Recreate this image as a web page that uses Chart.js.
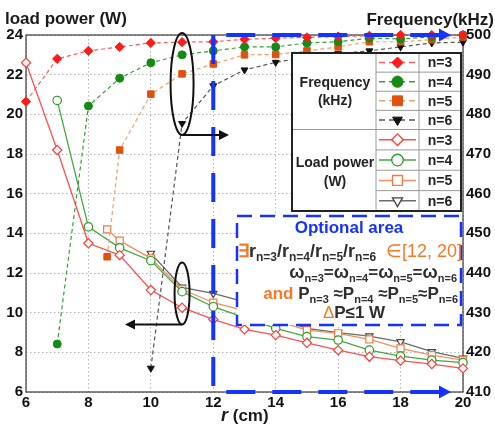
<!DOCTYPE html>
<html><head><meta charset="utf-8">
<script src="https://cdn.jsdelivr.net/npm/chart.js@4"></script>
<style>html,body{margin:0;padding:0;background:#fff;overflow:hidden}canvas{display:block}</style>
</head><body>
<canvas id="c" width="495" height="425"></canvas>
<script>
// ---------- data ----------
const xTicks = [6, 8, 10, 12, 14, 16, 18, 20];
const powerTicks = [6, 8, 10, 12, 14, 16, 18, 20, 22, 24];
const freqTicks = [410, 420, 430, 440, 450, 460, 470, 480, 490, 500];

const r3 = [6, 7, 8, 9, 10, 11, 12, 13, 14, 15, 16, 17, 18, 19, 20];
const freq3 = [483.2, 494.0, 496.0, 497.0, 498.0, 498.2, 498.3, 498.9, 499.2, 499.4, 499.6, 499.8, 500, 500, 500];
const power3 = [22.6, 18.2, 13.5, 12.9, 11.14, 10.25, 9.66, 9.16, 8.87, 8.48, 8.11, 7.78, 7.58, 7.41, 7.19];

const r4 = [7, 8, 9, 10, 11, 12, 13, 14, 15, 16, 17, 18, 19, 20];
const freq4 = [422.1, 482.1, 489.1, 493.0, 495.0, 496.0, 497.0, 497.0, 498.0, 498.3, 499.2, 499.0, 499.5, 500];
const power4 = [20.7, 14.33, 13.27, 12.62, 11.06, 10.3, 9.75, 9.21, 8.79, 8.62, 8.11, 7.81, 7.61, 7.48];

const r5 = [8.6, 9, 10, 11, 12, 13, 14, 15, 16, 17, 18, 19, 20];
const freq5 = [444.1, 471.0, 485.1, 490.2, 492.7, 495.0, 495.1, 496.0, 497.0, 498.3, 498.3, 498.8, 499.5];
const power5 = [14.2, 13.63, 12.74, 11.18, 10.5, 10.1, 9.6, 9.12, 8.96, 8.65, 8.2, 7.86, 7.61];

const r6 = [10, 11, 12, 13, 14, 15, 16, 17, 18, 19, 20];
const freq6 = [416.0, 477.7, 487.2, 491.2, 493.1, 494.5, 495.3, 496.0, 497.0, 498.0, 498.2];
const power6 = [12.99, 11.28, 10.97, 10.55, 9.75, 9.21, 8.99, 8.82, 8.53, 8.03, 7.7];

const seriesNames = ['n=3', 'n=4', 'n=5', 'n=6'];

// ---------- styles ----------
const FONT = '"Liberation Sans", Arial, Helvetica, sans-serif';
const styles = [
  { marker: '#ff1a1a', dash: '#ff5c5c', line: '#ff5050', open: '#ff3b3b', shape: 'rectRot' },
  { marker: '#168a16', dash: '#3a9d3a', line: '#45a845', open: '#2a9a2a', shape: 'circle' },
  { marker: '#e0500e', dash: '#f3a070', line: '#f29060', open: '#f07a48', shape: 'rect' },
  { marker: '#111111', dash: '#555555', line: '#6a6a6a', open: '#444444', shape: 'triDown' }
];
const rs = [r3, r4, r5, r6];
const freqs = [freq3, freq4, freq5, freq6];
const powers = [power3, power4, power5, power6];

function pts(xs, ys) { return xs.map((x, i) => ({ x: x, y: ys[i] })); }
function cjStyle(s) { return s === 'triDown' ? 'triangle' : s; }

const datasets = [];
for (let i = 0; i < 4; i++) {
  const st = styles[i];
  const rad = st.shape === 'rect' ? 4.6 : (st.shape === 'rectRot' ? 4.6 : 4);
  datasets.push({
    label: 'freq ' + seriesNames[i], data: pts(rs[i], freqs[i]), yAxisID: 'y1',
    borderColor: st.dash, borderWidth: 1.2, borderDash: [4, 3],
    pointStyle: cjStyle(st.shape), pointRotation: st.shape === 'triDown' ? 180 : 0,
    pointRadius: rad, pointBackgroundColor: st.marker, pointBorderColor: st.marker, pointBorderWidth: 1,
    tension: 0, clip: false, order: 1
  });
}
for (let i = 0; i < 4; i++) {
  const st = styles[i];
  const rad = st.shape === 'rect' ? 5 : (st.shape === 'rectRot' ? 4.6 : 4.2);
  datasets.push({
    label: 'power ' + seriesNames[i], data: pts(rs[i], powers[i]), yAxisID: 'y',
    borderColor: st.line, borderWidth: 1.3,
    pointStyle: cjStyle(st.shape), pointRotation: st.shape === 'triDown' ? 180 : 0,
    pointRadius: rad, pointBackgroundColor: '#ffffff', pointBorderColor: st.open, pointBorderWidth: 1.2,
    tension: 0, clip: false, order: 2
  });
}

// ---------- drawing helpers ----------
function marker(ctx, style, x, y, r, fill, stroke, lw) {
  ctx.save();
  ctx.beginPath();
  if (style === 'circle') ctx.arc(x, y, r, 0, 2 * Math.PI);
  else if (style === 'rectRot') { ctx.moveTo(x, y - r); ctx.lineTo(x + r, y); ctx.lineTo(x, y + r); ctx.lineTo(x - r, y); ctx.closePath(); }
  else if (style === 'rect') { const s = r * Math.SQRT1_2; ctx.rect(x - s, y - s, 2 * s, 2 * s); }
  else { ctx.moveTo(x - r * 0.866, y - r * 0.5); ctx.lineTo(x + r * 0.866, y - r * 0.5); ctx.lineTo(x, y + r); ctx.closePath(); }
  ctx.fillStyle = fill; ctx.fill();
  ctx.lineWidth = lw; ctx.strokeStyle = stroke; ctx.stroke();
  ctx.restore();
}
function rich(ctx, segs, x, y, align) {
  let total = 0;
  segs.forEach(s => { ctx.font = s.f; s.w = ctx.measureText(s.t).width; total += s.w; });
  let cx = align === 'center' ? x - total / 2 : (align === 'right' ? x - total : x);
  ctx.textAlign = 'left'; ctx.textBaseline = 'alphabetic';
  segs.forEach(s => { ctx.font = s.f; ctx.fillStyle = s.c; ctx.fillText(s.t, cx, y + (s.dy || 0)); cx += s.w; });
}
function arrowHead(ctx, x, y, dir, len, half, color) {
  ctx.beginPath();
  ctx.moveTo(x, y);
  ctx.lineTo(x - dir * len, y - half);
  ctx.lineTo(x - dir * len, y + half);
  ctx.closePath();
  ctx.fillStyle = color; ctx.fill();
}

const annot = {
  id: 'annot',
  beforeDatasetsDraw(chart) {
    const ctx = chart.ctx, a = chart.chartArea;
    ctx.save();
    ctx.strokeStyle = '#3a3a3a'; ctx.lineWidth = 1.2;
    ctx.strokeRect(a.left, a.top, a.right - a.left, a.bottom - a.top);
    ctx.restore();
  },
  afterDatasetsDraw(chart) {
    const ctx = chart.ctx, a = chart.chartArea;
    const xs = chart.scales.x;
    const x11 = xs.getPixelForValue(11), x12 = xs.getPixelForValue(12);
    const BLUE = '#1532ff', DARK = '#2e2e2e', ORG = '#f47a28';
    ctx.save();

    // ----- optional area box -----
    const bx0 = 237, bx1 = 461, by0 = 216, by1 = 325;
    ctx.fillStyle = '#fff';
    ctx.fillRect(bx0, by0, bx1 - bx0, by1 - by0);
    ctx.setLineDash([15, 8]);
    ctx.strokeStyle = BLUE; ctx.lineWidth = 2.5;
    ctx.strokeRect(bx0, by0, bx1 - bx0, by1 - by0);
    ctx.setLineDash([]);

    const B = (s) => 'bold ' + s + 'px ' + FONT;
    const N = (s) => s + 'px ' + FONT;
    rich(ctx, [{ t: 'Optional area', f: B(17), c: BLUE }], 349, 233, 'center');
    const sub = (t, s) => ({ t: t, f: B(s || 11), c: DARK, dy: 4 });
    rich(ctx, [
      { t: '\u2203', f: B(18), c: ORG },
      { t: 'r', f: B(18), c: DARK }, sub('n=3', 12), { t: '/', f: B(18), c: DARK },
      { t: 'r', f: B(18), c: DARK }, sub('n=4', 12), { t: '/', f: B(18), c: DARK },
      { t: 'r', f: B(18), c: DARK }, sub('n=5', 12), { t: '/', f: B(18), c: DARK },
      { t: 'r', f: B(18), c: DARK }, sub('n=6', 12),
      { t: '  \u2208[12, 20]', f: N(18), c: ORG }
    ], 238, 257, 'left');
    rich(ctx, [
      { t: '\u03c9', f: B(18), c: DARK }, sub('n=3'), { t: '=', f: B(17), c: DARK },
      { t: '\u03c9', f: B(18), c: DARK }, sub('n=4'), { t: '=', f: B(17), c: DARK },
      { t: '\u03c9', f: B(18), c: DARK }, sub('n=5'), { t: '=', f: B(17), c: DARK },
      { t: '\u03c9', f: B(18), c: DARK }, sub('n=6')
    ], 457, 278, 'right');
    rich(ctx, [
      { t: 'and ', f: B(17), c: ORG },
      { t: 'P', f: B(17), c: DARK }, sub('n=3'), { t: ' \u2248', f: B(17), c: DARK },
      { t: 'P', f: B(17), c: DARK }, sub('n=4'), { t: ' \u2248', f: B(17), c: DARK },
      { t: 'P', f: B(17), c: DARK }, sub('n=5'), { t: '\u2248', f: B(17), c: DARK },
      { t: 'P', f: B(17), c: DARK }, sub('n=6')
    ], 458, 299, 'right');
    rich(ctx, [
      { t: '\u0394', f: N(17), c: ORG },
      { t: 'P\u22641 W', f: B(17), c: DARK }
    ], 354, 318, 'center');

    // ----- legend table -----
    const lx0 = 292, lx1 = 461, lc1 = 376, lc2 = 419, ly0 = 53, lmid = 129.5, ly1 = 211;
    ctx.fillStyle = '#fff';
    ctx.fillRect(lx0, ly0, lx1 - lx0, ly1 - ly0);
    ctx.strokeStyle = '#9a9a9a'; ctx.lineWidth = 1;
    ctx.beginPath();
    ctx.moveTo(lc1, ly0); ctx.lineTo(lc1, ly1);
    ctx.moveTo(lc2, ly0); ctx.lineTo(lc2, ly1);
    ctx.moveTo(lx0, lmid); ctx.lineTo(lx1, lmid);
    const rowsTop = [], rowsBot = [];
    for (let k = 0; k < 4; k++) {
      rowsTop.push(ly0 + (lmid - ly0) * (k + 0.5) / 4);
      rowsBot.push(lmid + (ly1 - lmid) * (k + 0.5) / 4);
      if (k > 0) {
        const yt = ly0 + (lmid - ly0) * k / 4, yb = lmid + (ly1 - lmid) * k / 4;
        ctx.moveTo(lc1, yt); ctx.lineTo(lx1, yt);
        ctx.moveTo(lc1, yb); ctx.lineTo(lx1, yb);
      }
    }
    ctx.stroke();
    ctx.strokeStyle = '#222'; ctx.lineWidth = 2;
    ctx.strokeRect(lx0, ly0, lx1 - lx0, ly1 - ly0);

    ctx.fillStyle = '#222'; ctx.font = B(14); ctx.textAlign = 'center'; ctx.textBaseline = 'middle';
    const lcx = (lx0 + lc1) / 2 + 1;
    ctx.fillText('Frequency', lcx, 83);
    ctx.fillText('(kHz)', lcx, 101);
    ctx.fillText('Load power', lcx, 163);
    ctx.fillText('(W)', lcx, 182);
    const sx0 = lc1 + 3, sx1 = lc2 - 3, smx = (lc1 + lc2) / 2;
    for (let i = 0; i < 4; i++) {
      const st = styles[i];
      let y = rowsTop[i];
      ctx.strokeStyle = st.dash; ctx.lineWidth = 1.4; ctx.setLineDash([6, 4]);
      ctx.beginPath(); ctx.moveTo(sx0, y); ctx.lineTo(sx1, y); ctx.stroke(); ctx.setLineDash([]);
      marker(ctx, st.shape, smx, y, st.shape === 'rect' ? 7 : 5.6, st.marker, st.marker, 1);
      ctx.fillStyle = '#222'; ctx.font = B(14); ctx.textAlign = 'center'; ctx.textBaseline = 'middle';
      ctx.fillText(seriesNames[i], (lc2 + lx1) / 2, y + 1);
      y = rowsBot[i];
      ctx.strokeStyle = st.line; ctx.lineWidth = 1.4;
      ctx.beginPath(); ctx.moveTo(sx0, y); ctx.lineTo(sx1, y); ctx.stroke();
      marker(ctx, st.shape, smx, y, st.shape === 'rect' ? 7 : 5.8, '#fff', st.open, 1.3);
      ctx.fillStyle = '#222'; ctx.font = B(14); ctx.textAlign = 'center'; ctx.textBaseline = 'middle';
      ctx.fillText(seriesNames[i], (lc2 + lx1) / 2, y + 1);
    }

    // ----- blue thick dashed lines with arrows -----
    ctx.strokeStyle = BLUE; ctx.lineWidth = 4; ctx.setLineDash([29, 17]);
    ctx.beginPath(); ctx.moveTo(x12, a.top); ctx.lineTo(x12, a.bottom); ctx.stroke();
    ctx.lineDashOffset = 33;
    ctx.beginPath(); ctx.moveTo(x12, a.top); ctx.lineTo(441, a.top); ctx.stroke();
    ctx.beginPath(); ctx.moveTo(x12, a.bottom); ctx.lineTo(441, a.bottom); ctx.stroke();
    ctx.setLineDash([]); ctx.lineDashOffset = 0;
    arrowHead(ctx, 451, a.top, 1, 12, 6.5, BLUE);
    arrowHead(ctx, 451, a.bottom, 1, 12, 6.5, BLUE);

    // ----- ellipses and black arrows -----
    ctx.strokeStyle = '#111'; ctx.lineWidth = 2;
    ctx.beginPath(); ctx.ellipse(x11, 84, 11.5, 51, 0, 0, 2 * Math.PI); ctx.stroke();
    ctx.beginPath(); ctx.moveTo(x11, 135); ctx.lineTo(220, 135); ctx.stroke();
    arrowHead(ctx, 229, 135, 1, 10, 5, '#111');
    ctx.beginPath(); ctx.ellipse(x11, 293.5, 7.5, 31, 0, 0, 2 * Math.PI); ctx.stroke();
    ctx.beginPath(); ctx.moveTo(x11, 324.5); ctx.lineTo(134, 324.5); ctx.stroke();
    arrowHead(ctx, 125, 324.5, -1, 10, 5, '#111');

    // ----- axis titles -----
    ctx.fillStyle = '#1a1a1a'; ctx.textBaseline = 'alphabetic';
    ctx.font = B(17); ctx.textAlign = 'left';
    ctx.fillText('load power (W)', 5, 24);
    ctx.textAlign = 'right';
    ctx.fillText('Frequency(kHz)', 494, 25);
    rich(ctx, [
      { t: 'r', f: 'italic bold 18px ' + FONT, c: '#1a1a1a' },
      { t: ' (cm)', f: B(17), c: '#1a1a1a' }
    ], 221, 421, 'left');
    ctx.restore();
  }
};

const tickFont = { family: FONT, size: 15, weight: 'bold' };
const gridOpts = { color: '#b5b5b5', lineWidth: 1, drawTicks: false };
new Chart(document.getElementById('c'), {
  type: 'line',
  data: { datasets: datasets },
  options: {
    responsive: false, animation: false, devicePixelRatio: 1,
    layout: { padding: { top: 35, left: 0, right: 0, bottom: 0 } },
    plugins: { legend: { display: false }, tooltip: { enabled: false } },
    scales: {
      x: {
        type: 'linear', min: 6, max: 20,
        afterBuildTicks: s => { s.ticks = xTicks.map(v => ({ value: v })); },
        afterFit: s => { s.height = 33; },
        ticks: { font: tickFont, color: '#111', padding: 2, maxRotation: 0, autoSkip: false },
        grid: gridOpts, border: { display: false, dash: [1.5, 2.5] }
      },
      y: {
        position: 'left', min: 6, max: 24,
        afterBuildTicks: s => { s.ticks = powerTicks.map(v => ({ value: v })); },
        afterFit: s => { s.width = 26; },
        ticks: { font: tickFont, color: '#111', padding: 3, autoSkip: false },
        grid: gridOpts, border: { display: false, dash: [1.5, 2.5] }
      },
      y1: {
        position: 'right', min: 410, max: 500,
        afterBuildTicks: s => { s.ticks = freqTicks.map(v => ({ value: v })); },
        afterFit: s => { s.width = 32; },
        ticks: { font: tickFont, color: '#111', padding: 3, autoSkip: false },
        grid: { display: false, drawTicks: false }, border: { display: false }
      }
    }
  },
  plugins: [annot]
});
</script>
</body></html>
